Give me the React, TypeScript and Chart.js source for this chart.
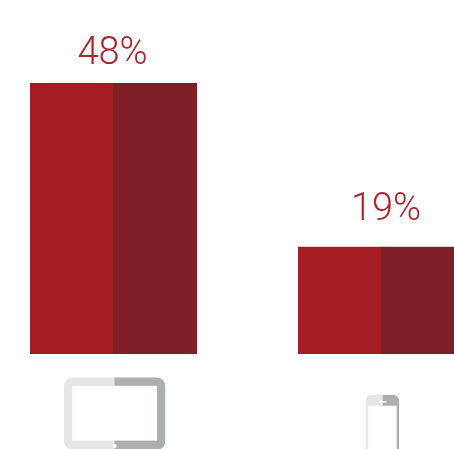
import React, { useEffect, useRef } from "react";
import { Chart, registerables } from "chart.js";

Chart.register(...registerables);

const devices = ["Tablet", "Smartphone"];
const shareFront = [48, 19];
const shareSide = [48, 19];
const shareLabels = ["48%", "19%"];

const RED = "#a31c21";
const DARK_RED = "#7f1e24";
const ICON_LIGHT = "#e6e6e6";
const ICON_DARK = "#adaeae";

// Per-label nudges away from the bar's centre and top.
const LABEL_SHIFT_X = [-0.5, 5];
const LABEL_LIFT_Y = [19, 27];

// Left limit of each lighter half, in canvas pixels.
const FRONT_LEFT = [51, 319];

// Rounded outline split into a light left half and a darker right half.
function splitFrame(
  ctx: CanvasRenderingContext2D,
  left: number,
  top: number,
  right: number,
  bottom: number,
  split: number,
  radius: number,
) {
  ctx.save();
  ctx.beginPath();
  ctx.roundRect(left, top, right - left, bottom - top, radius);
  ctx.clip();
  ctx.fillStyle = ICON_LIGHT;
  ctx.fillRect(left, top, split - left, bottom - top);
  ctx.fillStyle = ICON_DARK;
  ctx.fillRect(split, top, right - split, bottom - top);
  ctx.restore();
}

const deviceIcons = {
  id: "deviceIcons",
  afterDraw(chart: Chart) {
    const { ctx } = chart;
    const x = chart.scales.x;
    const tablet = x.getPixelForValue(0);
    const phone = x.getPixelForValue(1);
    ctx.save();

    // Tablet held sideways, with its home button on the lower edge.
    splitFrame(ctx, tablet - 49, 377.3, tablet + 52.5, 450, tablet + 1.5, 9);
    ctx.fillStyle = "#ffffff";
    ctx.fillRect(tablet - 40.7, 385.8, 84.7, 54.8);
    ctx.beginPath();
    ctx.arc(tablet + 1.8, 446, 2, 0, Math.PI * 2);
    ctx.fill();

    // Phone, cut off by the bottom of the canvas.
    splitFrame(ctx, phone - 15.3, 395, phone + 18.3, 470, phone + 1.7, 6);
    ctx.fillStyle = "#ffffff";
    ctx.fillRect(phone - 12.7, 405.7, 28.4, 60);
    ctx.fillRect(phone - 1.7, 401, 7.4, 1.5);

    ctx.restore();
  },
};

const valueLabels = {
  id: "valueLabels",
  afterDatasetsDraw(chart: Chart) {
    const { ctx } = chart;
    const x = chart.scales.x;
    const y = chart.scales.y;
    ctx.save();
    ctx.fillStyle = "#a9272d";
    ctx.font = "300 38px Roboto";
    ctx.textAlign = "center";
    ctx.textBaseline = "alphabetic";
    shareLabels.forEach((label, i) => {
      ctx.fillText(
        label,
        x.getPixelForValue(i) + LABEL_SHIFT_X[i],
        y.getPixelForValue(shareFront[i]) - LABEL_LIFT_Y[i],
      );
    });
    ctx.restore();
  },
};

export default function App() {
  const ref = useRef<HTMLCanvasElement>(null);

  useEffect(() => {
    const widthShare = 168 / 268;
    // One lighter dataset per device, so each can have its own left limit.
    const frontSets = shareFront.map((value, i) => ({
      data: shareFront.map((_, j) => (j === i ? value : null)),
      stack: "front",
      backgroundColor: RED,
      categoryPercentage: widthShare,
      barPercentage: 1,
      clip: { left: -FRONT_LEFT[i], top: false, right: false, bottom: false },
    }));
    const chart = new Chart(ref.current!, {
      type: "bar",
      data: {
        labels: devices,
        datasets: [
          ...frontSets,
          {
            data: shareSide,
            stack: "side",
            backgroundColor: DARK_RED,
            categoryPercentage: widthShare,
            barPercentage: 1,
          },
        ],
      },
      options: {
        animation: false,
        responsive: false,
        layout: { padding: { top: 0, right: 0, bottom: 95, left: 0 } },
        plugins: { legend: { display: false }, tooltip: { enabled: false } },
        scales: {
          x: { display: false },
          y: { display: false, stacked: true, min: 0, max: 62.7 },
        },
      },
      plugins: [valueLabels, deviceIcons],
    });
    return () => chart.destroy();
  }, []);

  return (
    <div style={{ position: "fixed", left: 0, top: 0, width: 454, height: 449, overflow: "hidden", background: "#fff" }}>
      <canvas ref={ref} width={536} height={449} style={{ position: "absolute", left: -21, top: 0 }} />
    </div>
  );
}
